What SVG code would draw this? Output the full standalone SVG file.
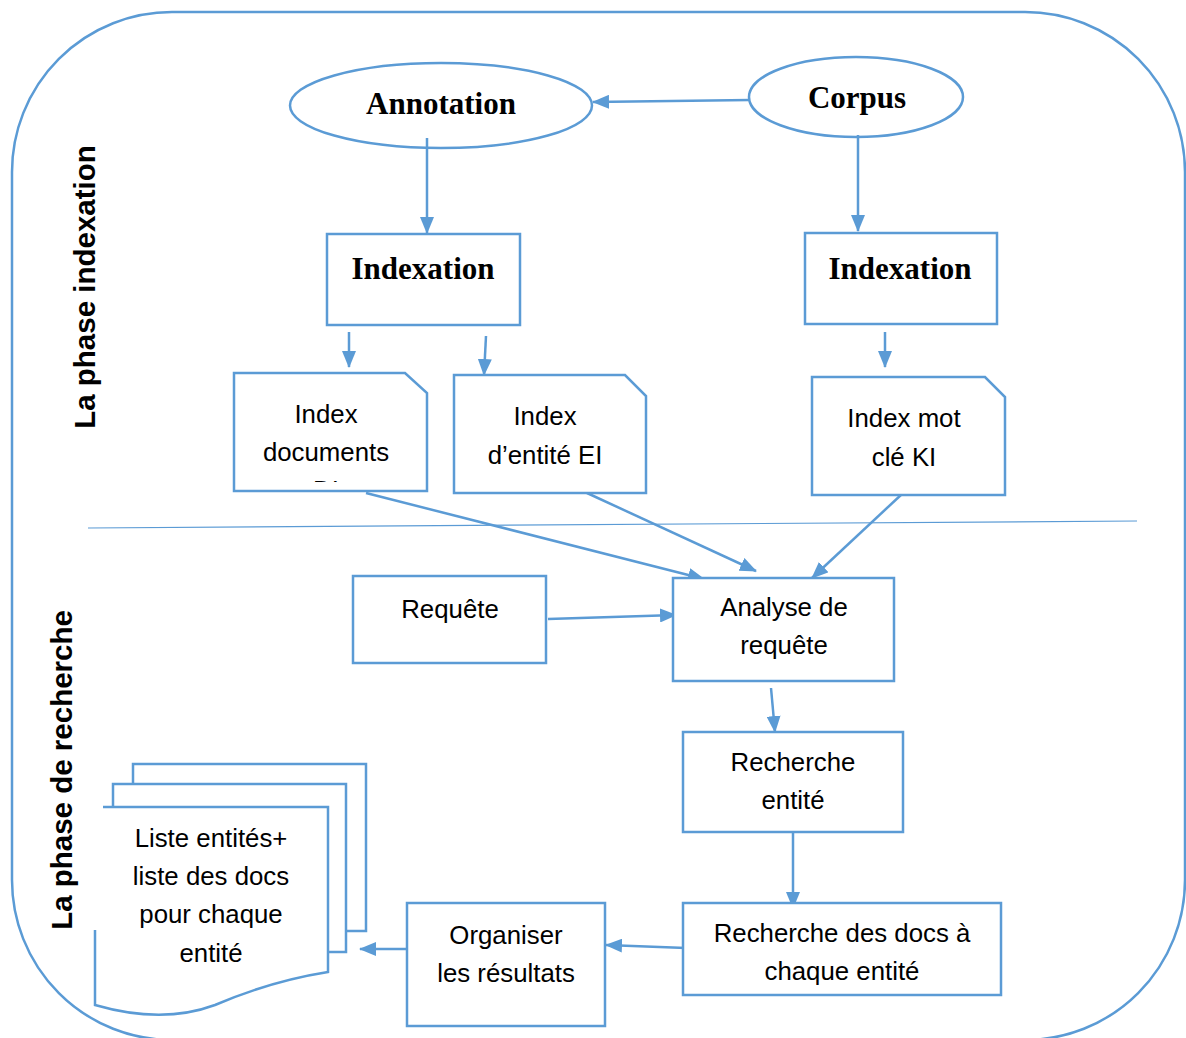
<svg xmlns="http://www.w3.org/2000/svg" width="1186" height="1038" viewBox="0 0 1186 1038">
  <style>
    .shape { fill: #ffffff; stroke: #5B9BD5; stroke-width: 2.5; }
    .frame { fill: none; stroke: #5B9BD5; stroke-width: 2.5; }
    .link { fill: none; stroke: #5B9BD5; stroke-width: 2.5; marker-end: url(#head); }
    .t { font-family: "Liberation Sans", Arial, sans-serif; font-size: 25.8px; fill: #000; text-anchor: middle; }
    .title { font-family: "Liberation Serif", "Times New Roman", serif; font-size: 31px; font-weight: bold; fill: #000; text-anchor: middle; }
    .phase { font-family: "Liberation Sans", Arial, sans-serif; font-size: 29.5px; font-weight: bold; fill: #000; text-anchor: middle; }
  </style>
  <defs>
    <marker id="head" markerUnits="userSpaceOnUse" markerWidth="18" markerHeight="14" refX="16" refY="7" orient="auto">
      <path d="M0,0 L17,7 L0,14 Z" fill="#5B9BD5"/>
    </marker>
    <clipPath id="clipDocs">
      <rect x="236" y="375" width="190" height="107"/>
    </clipPath>
  </defs>
  <rect width="1186" height="1038" fill="#ffffff"/>

  <!-- outer frame and phase separator -->
  <rect class="frame" x="12" y="12" width="1173" height="1028" rx="160" ry="160"/>
  <line x1="88" y1="528" x2="1137" y2="521" stroke="#5B9BD5" stroke-width="1.2"/>

  <text class="phase" transform="translate(95,287) rotate(-90)">La phase indexation</text>
  <text class="phase" transform="translate(72,770) rotate(-90)">La phase de recherche</text>

  <!-- connectors -->
  <g id="connectors">
    <line class="link" x1="750" y1="100" x2="593" y2="102"/>
    <line class="link" x1="427" y1="138" x2="427" y2="233"/>
    <line class="link" x1="858" y1="135" x2="858" y2="231"/>
    <line class="link" x1="349" y1="332" x2="349" y2="367"/>
    <line class="link" x1="486" y1="336" x2="484" y2="375"/>
    <line class="link" x1="885" y1="332" x2="885" y2="367"/>
    <line class="link" x1="366" y1="493" x2="704" y2="579"/>
    <line class="link" x1="587" y1="493" x2="756" y2="571"/>
    <line class="link" x1="902" y1="494" x2="812" y2="578"/>
    <line class="link" x1="548" y1="619" x2="676" y2="615"/>
    <line class="link" x1="771" y1="688" x2="775" y2="732"/>
    <line class="link" x1="793" y1="833" x2="793" y2="908"/>
    <line class="link" x1="686" y1="948" x2="606" y2="945"/>
    <line class="link" x1="411" y1="949" x2="360" y2="949"/>
  </g>

  <!-- nodes -->
  <g id="annotation">
    <ellipse class="frame" cx="441" cy="105.5" rx="151" ry="42.5"/>
    <text class="title" x="441" y="114">Annotation</text>
  </g>
  <g id="corpus">
    <ellipse class="frame" cx="856" cy="97" rx="107" ry="40"/>
    <text class="title" x="857" y="108">Corpus</text>
  </g>
  <g id="indexation-annotation">
    <rect class="shape" x="327" y="234" width="193" height="91"/>
    <text class="title" x="423" y="279">Indexation</text>
  </g>
  <g id="indexation-corpus">
    <rect class="shape" x="805" y="233" width="192" height="91"/>
    <text class="title" x="900" y="279">Indexation</text>
  </g>
  <g id="index-documents">
    <path class="shape" d="M234,373 H405 L427,393 V491 H234 Z"/>
    <text class="t" x="326" y="423">Index</text>
    <text class="t" x="326" y="461">documents</text>
    <text class="t" x="326" y="499" clip-path="url(#clipDocs)">DI</text>
  </g>
  <g id="index-entite">
    <path class="shape" d="M454,375 H625 L646,396 V493 H454 Z"/>
    <text class="t" x="545" y="425">Index</text>
    <text class="t" x="545" y="464">d’entité EI</text>
  </g>
  <g id="index-mot-cle">
    <path class="shape" d="M812,377 H985 L1005,397 V495 H812 Z"/>
    <text class="t" x="904" y="427">Index mot</text>
    <text class="t" x="904" y="466">clé KI</text>
  </g>
  <g id="requete">
    <rect class="shape" x="353" y="576" width="193" height="87"/>
    <text class="t" x="450" y="618">Requête</text>
  </g>
  <g id="analyse">
    <rect class="shape" x="673" y="578" width="221" height="103"/>
    <text class="t" x="784" y="616">Analyse de</text>
    <text class="t" x="784" y="654">requête</text>
  </g>
  <g id="recherche-entite">
    <rect class="shape" x="683" y="732" width="220" height="100"/>
    <text class="t" x="793" y="771">Recherche</text>
    <text class="t" x="793" y="809">entité</text>
  </g>
  <g id="recherche-docs">
    <rect class="shape" x="683" y="903" width="318" height="92"/>
    <text class="t" x="842" y="942">Recherche des docs à</text>
    <text class="t" x="842" y="980">chaque entité</text>
  </g>
  <g id="organiser">
    <rect class="shape" x="407" y="903" width="198" height="123"/>
    <text class="t" x="506" y="944">Organiser</text>
    <text class="t" x="506" y="982">les résultats</text>
  </g>
  <g id="liste-resultats">
    <path class="frame" d="M133,784 V764 H366 V931 H346"/>
    <path class="frame" d="M113,807 V784 H346 V952 H328"/>
    <path class="frame" d="M103,807 H328 V972 C290,978 250,990 215,1005 C180,1018 140,1018 95,1005 V930"/>
    <text class="t" x="211" y="847">Liste entités+</text>
    <text class="t" x="211" y="885">liste des docs</text>
    <text class="t" x="211" y="923">pour chaque</text>
    <text class="t" x="211" y="962">entité</text>
  </g>
</svg>
